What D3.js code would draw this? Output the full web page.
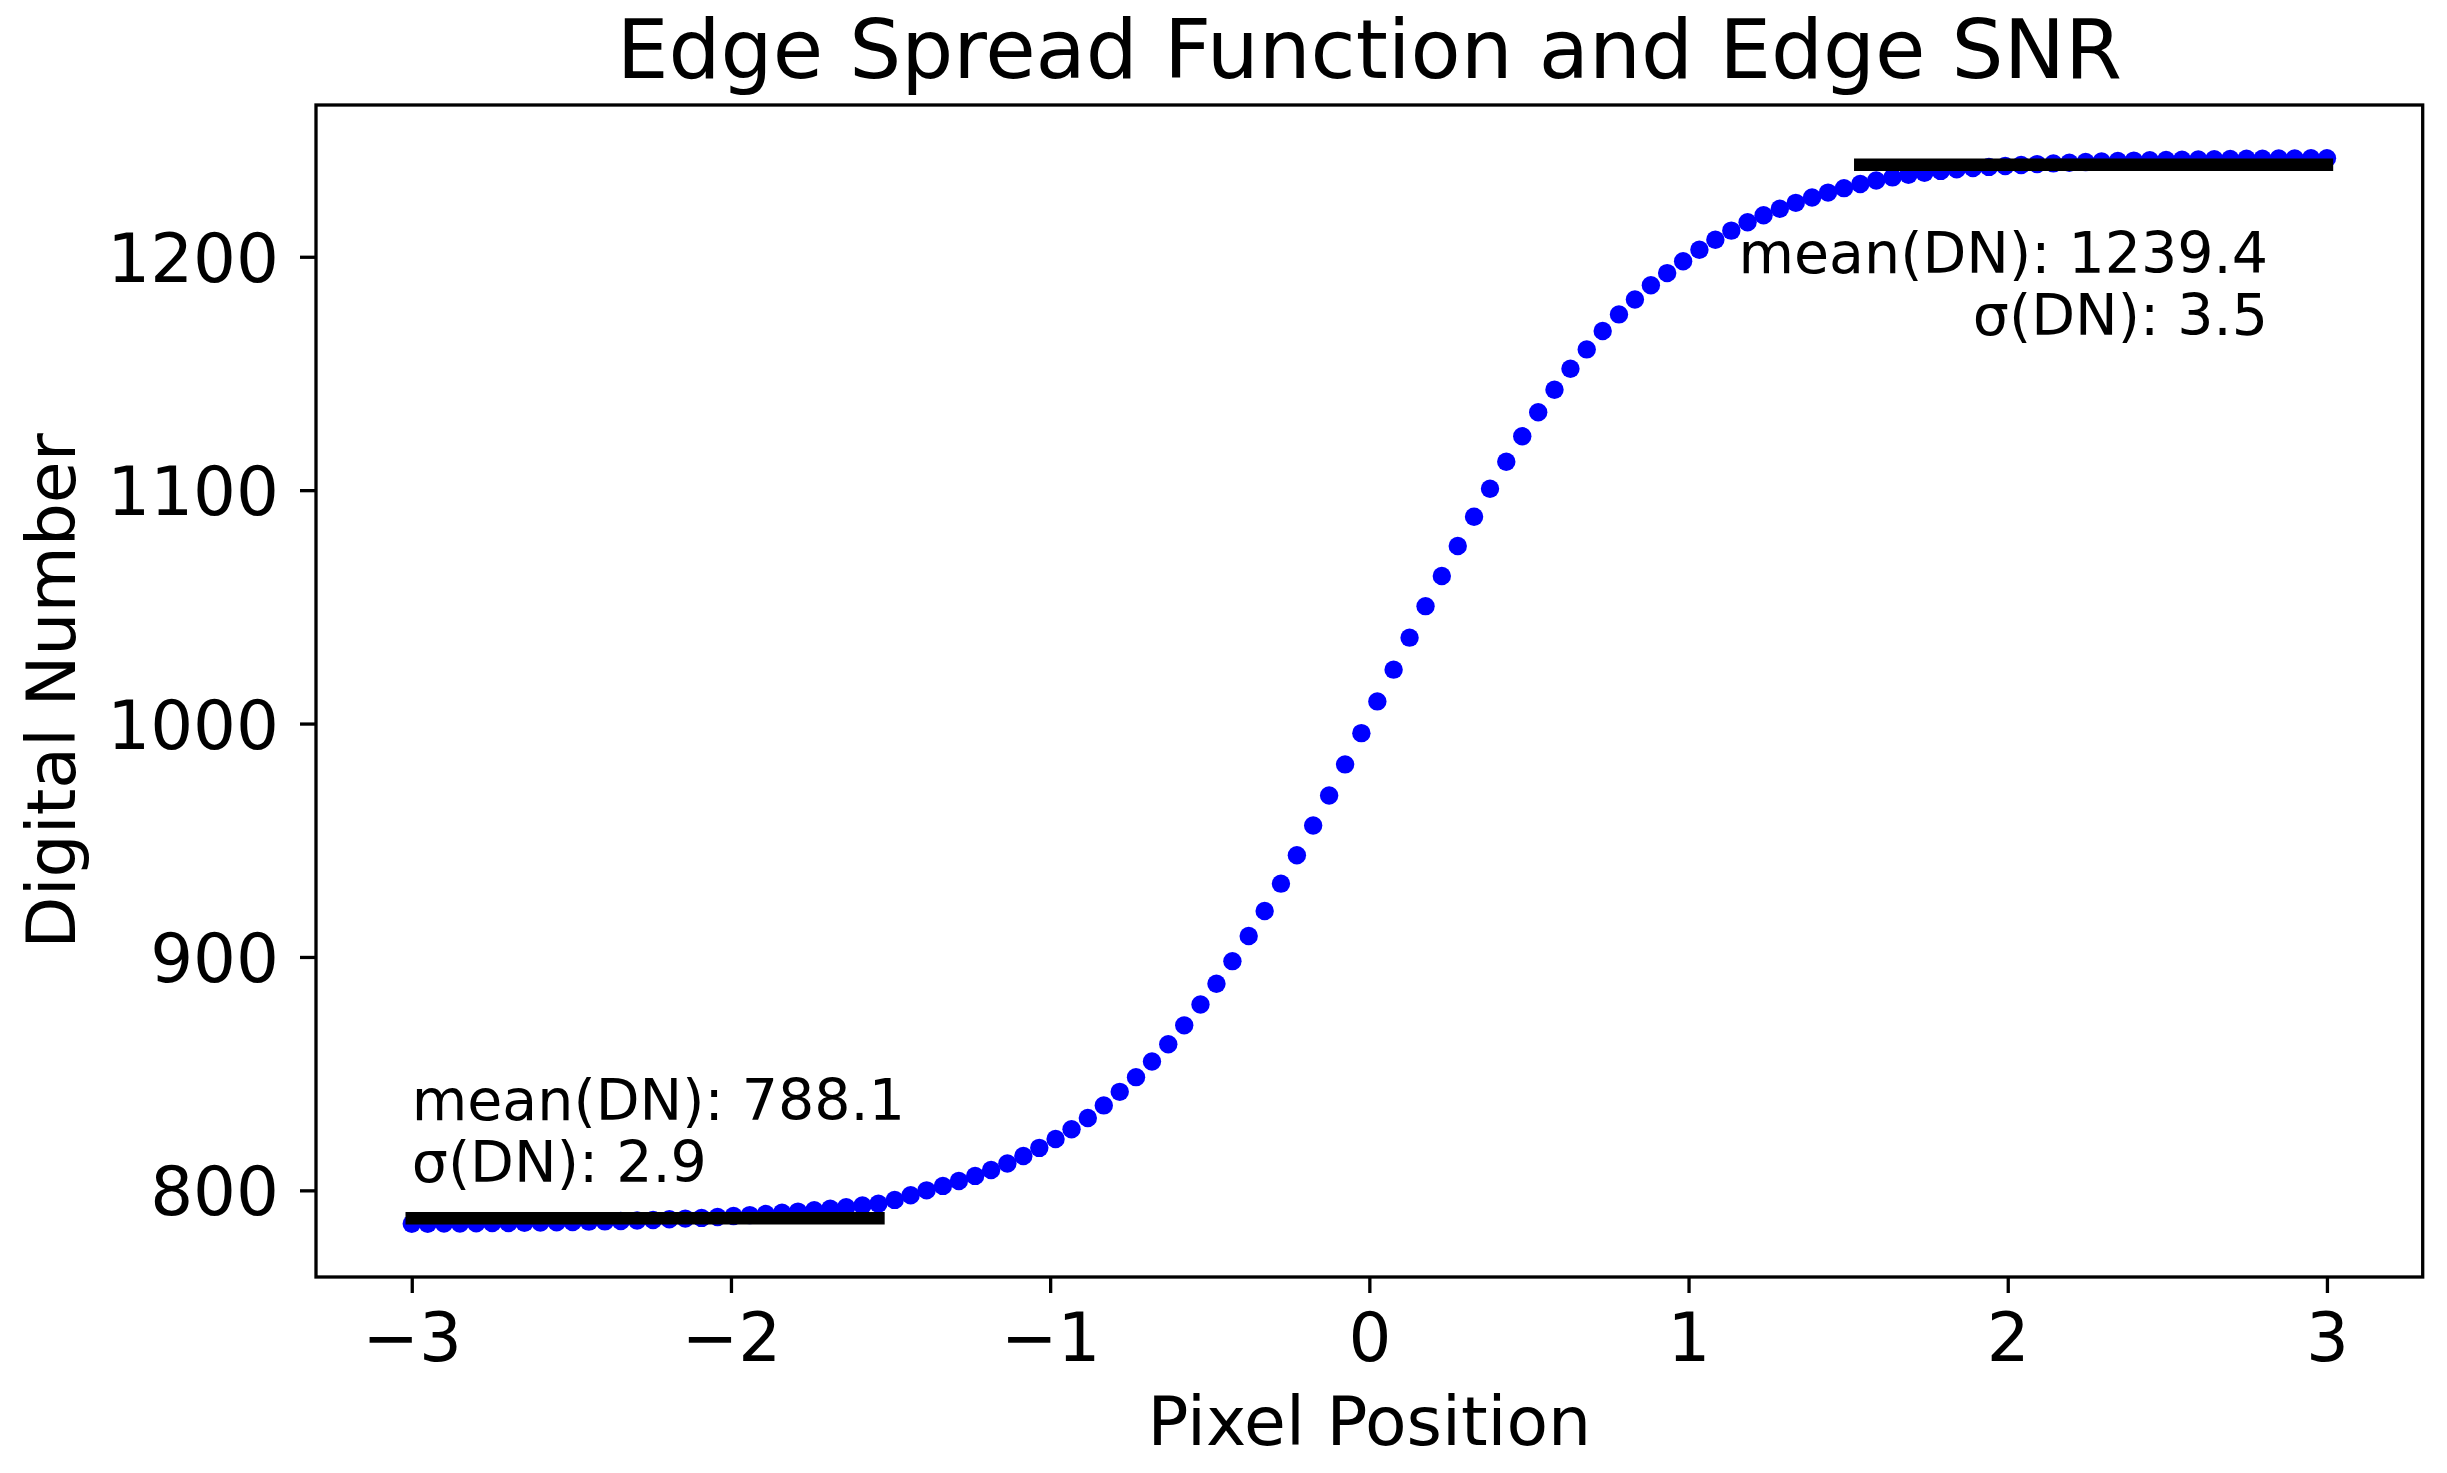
<!DOCTYPE html>
<html>
<head>
<meta charset="utf-8">
<script src="https://cdn.jsdelivr.net/npm/d3@7"></script>
<style>
  body { margin: 0; background: #ffffff; }
  svg { display: block; }
  text { font-family: "DejaVu Sans", sans-serif; fill: #000000; }
</style>
</head>
<body>
<svg id="chart" width="2447" height="1473"></svg>
<script>
// ---- data ----
const pixelPosition = [
  -3.000, -2.950, -2.899, -2.849, -2.798, -2.748, -2.697, -2.647, -2.597, -2.546,
  -2.496, -2.445, -2.395, -2.345, -2.294, -2.244, -2.193, -2.143, -2.092, -2.042,
  -1.992, -1.941, -1.891, -1.840, -1.790, -1.739, -1.689, -1.639, -1.588, -1.538,
  -1.487, -1.437, -1.387, -1.336, -1.286, -1.235, -1.185, -1.134, -1.084, -1.034,
  -0.983, -0.933, -0.882, -0.832, -0.782, -0.731, -0.681, -0.630, -0.580, -0.529,
  -0.479, -0.429, -0.378, -0.328, -0.277, -0.227, -0.176, -0.126, -0.076, -0.025,
   0.025,  0.076,  0.126,  0.176,  0.227,  0.277,  0.328,  0.378,  0.429,  0.479,
   0.529,  0.580,  0.630,  0.681,  0.731,  0.782,  0.832,  0.882,  0.933,  0.983,
   1.034,  1.084,  1.134,  1.185,  1.235,  1.286,  1.336,  1.387,  1.437,  1.487,
   1.538,  1.588,  1.639,  1.689,  1.739,  1.790,  1.840,  1.891,  1.941,  1.992,
   2.042,  2.092,  2.143,  2.193,  2.244,  2.294,  2.345,  2.395,  2.445,  2.496,
   2.546,  2.597,  2.647,  2.697,  2.748,  2.798,  2.849,  2.899,  2.950,  3.000
];
const digitalNumber = [
  785.7, 785.7, 785.8, 785.8, 785.9, 786.0, 786.0, 786.1, 786.2, 786.3,
  786.4, 786.6, 786.7, 786.9, 787.1, 787.3, 787.6, 787.9, 788.2, 788.6,
  789.0, 789.4, 789.9, 790.4, 790.9, 791.5, 792.1, 792.8, 793.5, 794.3,
  795.9, 797.9, 800.0, 801.9, 804.0, 806.2, 808.7, 811.5, 814.7, 818.2,
  822.0, 826.2, 831.0, 836.4, 842.2, 848.5, 855.2, 862.6, 870.7, 879.6,
  888.5, 898.2, 909.0, 919.7, 931.4, 943.6, 956.3, 969.2, 982.5, 995.9,
  1009.5, 1023.1, 1036.8, 1050.3, 1063.2, 1076.1, 1088.6, 1100.6, 1112.2, 1123.1,
  1133.4, 1143.0, 1152.0, 1160.3, 1168.2, 1175.3, 1181.7, 1187.8, 1193.0, 1198.1,
  1203.0, 1207.3, 1211.2, 1214.8, 1217.8, 1220.6, 1223.1, 1225.4, 1227.5, 1229.4,
  1231.2, 1232.7, 1234.0, 1235.1, 1236.0, 1236.8, 1237.5, 1238.0, 1238.5, 1238.9,
  1239.3, 1239.7, 1240.0, 1240.3, 1240.6, 1240.8, 1241.0, 1241.2, 1241.4, 1241.5,
  1241.6, 1241.7, 1241.8, 1241.9, 1242.0, 1242.0, 1242.1, 1242.1, 1242.2, 1242.2
];
const xTicks = [-3, -2, -1, 0, 1, 2, 3];
const yTicks = [800, 900, 1000, 1100, 1200];
const plateauStart = [-3.000, 1.538];
const plateauEnd = [-1.538, 3.000];
const plateauMean = [788.1, 1239.4];
const plateauLabels = [
  ["mean(DN): 788.1", "σ(DN): 2.9"],
  ["mean(DN): 1239.4", "σ(DN): 3.5"]
];
const titleText = "Edge Spread Function and Edge SNR";
const xLabelText = "Pixel Position";
const yLabelText = "Digital Number";

// ---- layout ----
const W = 2447, H = 1473;
const margin = { left: 316, right: 24.3, top: 105, bottom: 196 };
const pw = W - margin.left - margin.right;
const ph = H - margin.top - margin.bottom;
const tickFont = 67.5, labelFont = 68, titleFont = 82, annFont = 57;

const svg = d3.select("#chart");
svg.append("rect").attr("width", W).attr("height", H).attr("fill", "#ffffff");

// matplotlib-like 5% margins
function padded(ext) {
  const r = ext[1] - ext[0];
  return [ext[0] - 0.05 * r, ext[1] + 0.05 * r];
}
const x = d3.scaleLinear().domain(padded(d3.extent(pixelPosition)))
  .range([margin.left, margin.left + pw]);
const y = d3.scaleLinear().domain(padded(d3.extent(digitalNumber)))
  .range([margin.top + ph, margin.top]);

const fmt = d => (d < 0 ? "\u2212" + Math.abs(d) : String(d));

// dots
const pts = pixelPosition.map((px, i) => ({ px, v: digitalNumber[i] }));
svg.append("g").selectAll("circle").data(pts).join("circle")
  .attr("cx", d => x(d.px)).attr("cy", d => y(d.v)).attr("r", 9.2)
  .attr("fill", "#0000ff");

// plateau mean lines
const plateaus = plateauMean.map((m, i) => ({ x0: plateauStart[i], x1: plateauEnd[i], m }));
svg.append("g").selectAll("line").data(plateaus).join("line")
  .attr("x1", d => x(d.x0)).attr("x2", d => x(d.x1))
  .attr("y1", d => y(d.m)).attr("y2", d => y(d.m))
  .attr("stroke", "#000000").attr("stroke-width", 12.5)
  .attr("stroke-linecap", "square");

// annotations
const annLine = 62;
const leftG = svg.append("text").attr("font-size", annFont).attr("text-anchor", "start");
plateauLabels[0].forEach((t, k) => {
  leftG.append("tspan").attr("x", x(plateauStart[0]))
    .attr("y", y(plateauMean[0]) - 36 - (plateauLabels[0].length - 1 - k) * annLine)
    .text(t);
});
const rightG = svg.append("text").attr("font-size", annFont).attr("text-anchor", "end");
plateauLabels[1].forEach((t, k) => {
  rightG.append("tspan").attr("x", x(plateauEnd[1]) - 59)
    .attr("y", y(plateauMean[1]) + 108 + k * annLine)
    .text(t);
});

// axes
const xAxis = d3.axisBottom(x).tickValues(xTicks).tickFormat(fmt).tickSize(16);
const gx = svg.append("g").attr("transform", `translate(0,${margin.top + ph})`).call(xAxis);
gx.select(".domain").remove();
gx.selectAll(".tick line").attr("stroke", "#000").attr("stroke-width", 3.3);
gx.selectAll(".tick text").attr("y", 84).attr("dy", null)
  .attr("font-size", tickFont).attr("font-family", "DejaVu Sans, sans-serif").attr("fill", "#000");

const yAxis = d3.axisLeft(y).tickValues(yTicks).tickFormat(fmt).tickSize(16);
const gy = svg.append("g").attr("transform", `translate(${margin.left},0)`).call(yAxis);
gy.select(".domain").remove();
gy.selectAll(".tick line").attr("stroke", "#000").attr("stroke-width", 3.3);
gy.selectAll(".tick text").attr("x", -37).attr("dy", "0.364em")
  .attr("font-size", tickFont).attr("font-family", "DejaVu Sans, sans-serif").attr("fill", "#000");

// frame (spines)
svg.append("rect").attr("x", margin.left).attr("y", margin.top)
  .attr("width", pw).attr("height", ph)
  .attr("fill", "none").attr("stroke", "#000").attr("stroke-width", 3.3);

// labels
svg.append("text").attr("x", margin.left + pw / 2).attr("y", 1445)
  .attr("text-anchor", "middle").attr("font-size", labelFont).text(xLabelText);
svg.append("text")
  .attr("transform", `translate(75,${margin.top + ph / 2}) rotate(-90)`)
  .attr("text-anchor", "middle").attr("font-size", labelFont).text(yLabelText);
svg.append("text").attr("x", margin.left + pw / 2).attr("y", 78)
  .attr("text-anchor", "middle").attr("font-size", titleFont).text(titleText);
</script>
</body>
</html>
